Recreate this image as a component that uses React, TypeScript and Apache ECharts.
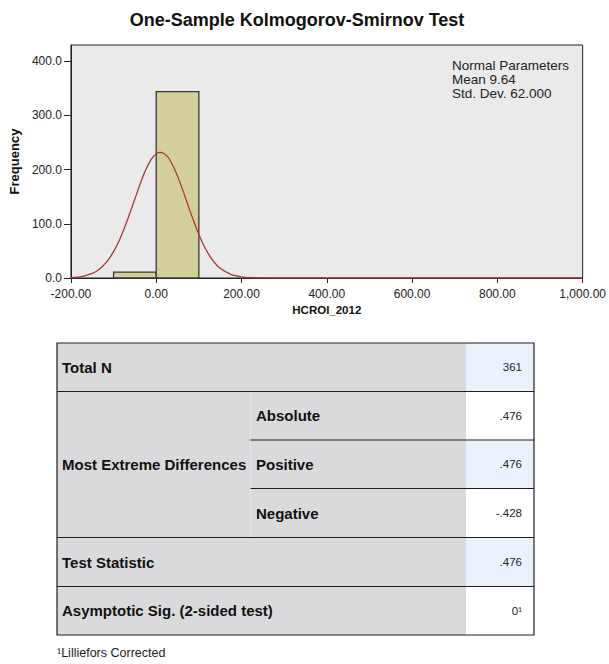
import React, { useEffect, useRef } from "react";
import * as echarts from "echarts";

// ---- data ----
const binStarts = [-100, 0];
const binEnds = [0, 100];
const binCounts = [11, 344];

const curveX = [-200, -175, -150, -137.5, -125, -112.5, -100, -87.5, -75, -62.5, -50, -37.5, -25, -12.5, 0, 10, 25, 37.5, 50, 62.5, 75, 87.5, 100, 112.5, 125, 137.5, 150, 175, 200, 225, 250, 275, 300, 1000];
const curveY = [0.8, 2.7, 8.4, 13.9, 22, 33.4, 48.7, 68, 91.5, 118, 146, 174, 198.7, 218, 229.5, 232, 225.3, 210, 188, 161.5, 133.3, 105.6, 80.4, 58.7, 41.2, 27.7, 17.9, 6.6, 2.1, 0.6, 0.15, 0.03, 0, 0];

const yTicks = [0, 100, 200, 300, 400];
const paramLines = ["Normal Parameters", "Mean 9.64", "Std. Dev. 62.000"];

const rowLabels = ["Total N", "Most Extreme Differences", "Test Statistic", "Asymptotic Sig. (2-sided test)"];
const subLabels = ["Absolute", "Positive", "Negative"];
const statValues = ["361", ".476", ".476", "-.428", ".476", "0\u00B9"];
const footnote = "\u00B9Lilliefors Corrected";

const FONT = "Arial, 'Liberation Sans', sans-serif";

function fmtX(v: number) {
  return v.toLocaleString("en-US", { minimumFractionDigits: 2, maximumFractionDigits: 2 });
}

function buildTable(): any[] {
  const L = 57, C1 = 250.5, C2 = 466, R = 534;
  const rows = [343, 391.5, 440, 488.5, 537.5, 586.5, 635];
  const els: any[] = [];
  els.push({ type: "rect", shape: { x: L, y: rows[0], width: C2 - L, height: rows[6] - rows[0] }, style: { fill: "#dadadc" } });
  for (let i = 0; i < 6; i++) {
    els.push({
      type: "rect",
      shape: { x: C2, y: rows[i], width: R - C2, height: rows[i + 1] - rows[i] },
      style: { fill: i % 2 === 0 ? "#eaf3fd" : "#ffffff" },
    });
  }
  els.push({ type: "line", shape: { x1: C1, y1: rows[1], x2: C1, y2: rows[4] }, style: { stroke: "#e6e6e8", lineWidth: 1 } });
  const full = [rows[1], rows[4], rows[5]];
  full.forEach((y) => els.push({ type: "line", shape: { x1: L, y1: y, x2: R, y2: y }, style: { stroke: "#1e1e1e", lineWidth: 1.2 } }));
  [rows[2], rows[3]].forEach((y) => els.push({ type: "line", shape: { x1: C1, y1: y, x2: R, y2: y }, style: { stroke: "#1e1e1e", lineWidth: 1.2 } }));
  els.push({ type: "rect", shape: { x: L, y: rows[0], width: R - L, height: rows[6] - rows[0] }, style: { fill: "none", stroke: "#1e1e1e", lineWidth: 1.2 } });

  const mid = (a: number, b: number) => (a + b) / 2;
  const labelStyle = (text: string) => ({ text, fontSize: 15, fontWeight: "bold", fontFamily: FONT, fill: "#111", align: "left", verticalAlign: "middle" });
  els.push({ type: "text", x: 62, y: mid(rows[0], rows[1]), style: labelStyle(rowLabels[0]) });
  els.push({ type: "text", x: 62, y: mid(rows[1], rows[4]), style: labelStyle(rowLabels[1]) });
  els.push({ type: "text", x: 62, y: mid(rows[4], rows[5]), style: labelStyle(rowLabels[2]) });
  els.push({ type: "text", x: 62, y: mid(rows[5], rows[6]), style: labelStyle(rowLabels[3]) });
  subLabels.forEach((s, i) => {
    els.push({ type: "text", x: 256, y: mid(rows[i + 1], rows[i + 2]), style: labelStyle(s) });
  });
  statValues.forEach((v, i) => {
    els.push({
      type: "text",
      x: 522,
      y: mid(rows[i], rows[i + 1]),
      style: { text: v, fontSize: 11.5, fontFamily: FONT, fill: "#222", align: "right", verticalAlign: "middle" },
    });
  });
  els.push({
    type: "text",
    x: 57,
    y: 653,
    style: { text: footnote, fontSize: 12.5, fontFamily: FONT, fill: "#222", align: "left", verticalAlign: "middle" },
  });
  return els;
}

export default function App() {
  const ref = useRef<HTMLDivElement>(null);
  useEffect(() => {
    if (!ref.current) return;
    const chart = echarts.init(ref.current, undefined, { renderer: "svg" });
    const barData = binStarts.map((s, i) => [s, binEnds[i], binCounts[i]]);
    const lineData = curveX.map((x, i) => [x, curveY[i]]);
    chart.setOption({
      animation: false,
      backgroundColor: "#ffffff",
      textStyle: { fontFamily: FONT },
      grid: {
        left: 64,
        right: 24,
        top: 45,
        bottom: 386,
        show: true,
        backgroundColor: "#eaeaea",
        borderColor: "#222",
        borderWidth: 1,
      },
      xAxis: {
        type: "value",
        min: -200,
        max: 1000,
        interval: 200,
        name: "HCROI_2012",
        nameLocation: "middle",
        nameGap: 26,
        nameTextStyle: { fontSize: 11.5, fontWeight: "bold", color: "#111", fontFamily: FONT },
        axisLine: { show: true, onZero: false, lineStyle: { color: "#222", width: 1 } },
        axisTick: { show: true, length: 5, lineStyle: { color: "#222" } },
        axisLabel: { fontSize: 12, color: "#222", margin: 10, formatter: (v: number) => fmtX(v), fontFamily: FONT },
        splitLine: { show: false },
      },
      yAxis: {
        type: "value",
        min: 0,
        max: 430,
        name: "Frequency",
        nameLocation: "middle",
        nameGap: 42,
        nameTextStyle: { fontSize: 13, fontWeight: "bold", color: "#111", fontFamily: FONT },
        axisLine: { show: true, onZero: false, lineStyle: { color: "#222", width: 1 } },
        axisTick: { show: true, length: 7, customValues: yTicks, lineStyle: { color: "#222" } },
        axisLabel: {
          fontSize: 12,
          color: "#222",
          margin: 9,
          customValues: yTicks,
          formatter: (v: number) => v.toFixed(1),
          fontFamily: FONT,
        },
        splitLine: { show: false },
      },
      graphic: [
        {
          type: "text",
          x: 297,
          y: 20,
          style: { text: "One-Sample Kolmogorov-Smirnov Test", fontSize: 18, fontWeight: "bold", fontFamily: FONT, fill: "#111", align: "center", verticalAlign: "middle" },
        },
        {
          type: "text",
          x: 452,
          y: 58,
          style: { text: paramLines.join("\n"), fontSize: 13.5, lineHeight: 14, fontFamily: FONT, fill: "#222", align: "left", verticalAlign: "top" },
        },
        ...buildTable(),
      ],
      series: [
        {
          type: "custom",
          data: barData,
          encode: { x: [0, 1], y: 2 },
          renderItem: (params: any, api: any) => {
            const x0 = api.value(0);
            const x1 = api.value(1);
            const c = api.value(2);
            const p0 = api.coord([x0, c]);
            const p1 = api.coord([x1, 0]);
            return {
              type: "rect",
              shape: { x: p0[0], y: p0[1], width: p1[0] - p0[0], height: p1[1] - p0[1] },
              style: { fill: "#d3cf98", stroke: "#383838", lineWidth: 1.3 },
            };
          },
          z: 2,
        },
        {
          type: "line",
          data: lineData,
          smooth: 0.3,
          showSymbol: false,
          symbol: "none",
          lineStyle: { color: "#a8383c", width: 1.3 },
          z: 3,
        },
      ],
    });
    return () => chart.dispose();
  }, []);
  return (
    <div
      ref={ref}
      style={{ position: "fixed", left: 0, top: 0, width: 609, height: 664, background: "#fff" }}
    />
  );
}
